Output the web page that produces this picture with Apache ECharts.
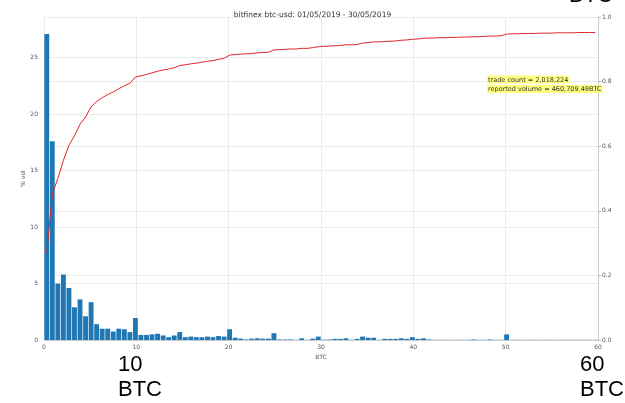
<!DOCTYPE html>
<html>
<head>
<meta charset="utf-8">
<script src="https://cdn.jsdelivr.net/npm/echarts@6/dist/echarts.min.js"></script>
<style>
  html, body { margin: 0; padding: 0; background: #fff; }
  #chart { width: 625px; height: 403px; }
</style>
</head>
<body>
<div id="chart"></div>
<script>
// histogram: 100 bins of 0.6 BTC from 0 to 60, % of volume
var binWidth = 0.6;
var volPct = [
  27.1, 17.6, 5.0, 5.8, 4.6, 2.9, 3.6, 2.1, 3.35, 1.4,
  1.0, 1.0, 0.75, 1.0, 0.95, 0.7, 1.95, 0.45, 0.45, 0.5,
  0.55, 0.4, 0.25, 0.4, 0.7, 0.25, 0.3, 0.25, 0.25, 0.3,
  0.25, 0.35, 0.3, 0.95, 0.2, 0.12, 0.05, 0.12, 0.15, 0.12,
  0.12, 0.6, 0.05, 0.05, 0.05, 0.02, 0.15, 0.02, 0.12, 0.3,
  0.03, 0.05, 0.1, 0.1, 0.15, 0.02, 0.1, 0.3, 0.2, 0.2,
  0.02, 0.1, 0.1, 0.1, 0.15, 0.1, 0.25, 0.1, 0.15, 0.05,
  0.02, 0.02, 0.02, 0.02, 0.02, 0.02, 0.02, 0.05, 0.02, 0.02,
  0.05, 0.02, 0.02, 0.5, 0.02, 0.02, 0.02, 0.02, 0.02, 0.02,
  0.02, 0.02, 0.02, 0.02, 0.02, 0.02, 0.02, 0.02, 0.02, 0.02
];
// cumulative share of volume at each bin centre (right axis)
var cumVol = [
  0.27, 0.452, 0.50, 0.556, 0.603, 0.632, 0.668, 0.69, 0.722, 0.738,
  0.75, 0.76, 0.768, 0.778, 0.787, 0.795, 0.814, 0.818, 0.822, 0.827,
  0.832, 0.836, 0.839, 0.843, 0.85, 0.852, 0.855, 0.857, 0.86, 0.863,
  0.865, 0.869, 0.872, 0.882, 0.884, 0.885, 0.886, 0.887, 0.889, 0.89,
  0.891, 0.898, 0.899, 0.90, 0.901, 0.901, 0.903, 0.903, 0.905, 0.908,
  0.909, 0.91, 0.911, 0.912, 0.914, 0.914, 0.915, 0.919, 0.921, 0.923,
  0.923, 0.924, 0.925, 0.926, 0.928, 0.929, 0.931, 0.932, 0.934, 0.935,
  0.935, 0.936, 0.936, 0.937, 0.937, 0.938, 0.938, 0.939, 0.939, 0.94,
  0.941, 0.941, 0.942, 0.947, 0.948, 0.948, 0.949, 0.949, 0.949, 0.95,
  0.95, 0.95, 0.951, 0.951, 0.951, 0.951, 0.952, 0.952, 0.952, 0.952
];
var xTicks = [0, 10, 20, 30, 40, 50, 60];
var titleText = "bitfinex btc-usd: 01/05/2019 - 30/05/2019";
var infoLines = ["trade count = 2,018,224", "reported volume = 460,709.49BTC"];

var binCats = volPct.map(function (v, i) { return (i * binWidth).toFixed(1); });
var linePts = cumVol.map(function (v, i) { return [i * binWidth + binWidth / 2, v]; });

var gridCol = "#ebebeb";
var labCol = "#555";
var font = "DejaVu Sans";

var myChart = echarts.init(document.getElementById("chart"));
var option = {
  backgroundColor: "#fff",
  animation: false,
  textStyle: { fontFamily: font },
  title: {
    text: titleText,
    left: "center",
    top: 6,
    textStyle: { fontSize: 7.5, fontWeight: "normal", color: "#333", fontFamily: font }
  },
  grid: { left: 44, right: 27, top: 17, bottom: 63 },
  xAxis: [
    {
      type: "category",
      data: binCats,
      boundaryGap: true,
      position: "bottom",
      show: false
    },
    {
      type: "value",
      min: 0,
      max: 60,
      interval: 10,
      position: "bottom",
      name: "BTC",
      nameLocation: "middle",
      nameGap: 14,
      nameTextStyle: { fontSize: 6, color: labCol },
      axisLine: { show: true, onZero: false, lineStyle: { color: "#ccc", width: 1 } },
      axisTick: { show: false },
      axisLabel: { fontSize: 6, color: labCol, margin: 4 },
      splitLine: { show: true, lineStyle: { color: gridCol, width: 1 } }
    }
  ],
  yAxis: [
    {
      type: "value",
      min: 0,
      max: 28.6,
      interval: 5,
      name: "% vol",
      nameLocation: "middle",
      nameRotate: 90,
      nameGap: 18,
      nameMoveOverlap: false,
      nameTextStyle: { fontSize: 6, color: labCol },
      axisLine: { show: false },
      axisTick: { show: false },
      axisLabel: { fontSize: 6, color: labCol, margin: 6, showMaxLabel: false },
      splitLine: { show: true, lineStyle: { color: gridCol, width: 1 } }
    },
    {
      type: "value",
      min: 0,
      max: 1,
      interval: 0.2,
      position: "right",
      axisLine: { show: true, lineStyle: { color: "#ccc", width: 1 } },
      axisTick: { show: true, length: 3, lineStyle: { color: "#bbb" } },
      axisLabel: {
        fontSize: 6, color: labCol, margin: 4,
        formatter: function (v) { return v.toFixed(1); }
      },
      splitLine: { show: true, lineStyle: { color: gridCol, width: 1 } }
    }
  ],
  series: [
    {
      type: "bar",
      xAxisIndex: 0,
      yAxisIndex: 0,
      data: volPct,
      barCategoryGap: "12%",
      itemStyle: { color: "#1f77b4" }
    },
    {
      type: "line",
      xAxisIndex: 1,
      yAxisIndex: 1,
      data: linePts,
      symbol: "none",
      lineStyle: { color: "#e0242a", width: 1 }
    }
  ],
  graphic: [
    {
      type: "text", left: 487, top: 75.5, z: 100,
      style: {
        text: infoLines[0], fontSize: 6.5, fontFamily: font, fill: "#333",
        backgroundColor: "#ffff80", padding: [1, 1, 0, 1]
      }
    },
    {
      type: "text", left: 487, top: 85, z: 100,
      style: {
        text: infoLines[1], fontSize: 6.5, fontFamily: font, fill: "#333",
        backgroundColor: "#ffff80", padding: [1, 1, 0, 1]
      }
    },
    {
      type: "text", left: 118, top: 352,
      style: {
        text: "10\nBTC", fontSize: 22, lineHeight: 25, align: "center",
        fontFamily: "Liberation Sans", fill: "#000"
      }
    },
    {
      type: "text", left: 580, top: 352,
      style: {
        text: "60\nBTC", fontSize: 22, lineHeight: 25, align: "center",
        fontFamily: "Liberation Sans", fill: "#000"
      }
    },
    {
      type: "text", left: 569, top: -15,
      style: {
        text: "BTC", fontSize: 22, fontFamily: "Liberation Sans", fill: "#000"
      }
    }
  ]
};
myChart.setOption(option);
</script>
</body>
</html>
